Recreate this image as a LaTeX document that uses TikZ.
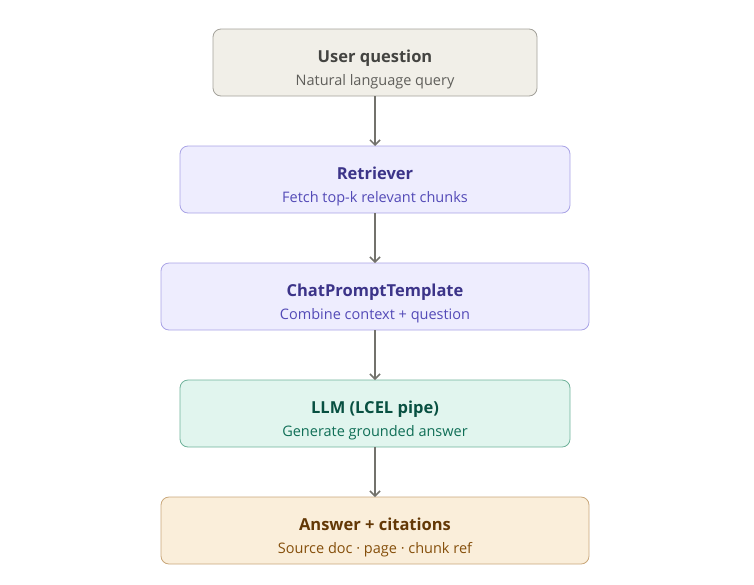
\documentclass[tikz,border=0pt]{standalone}
\usepackage{fontspec}
\setmainfont{Open Sans}
\usepackage{tikz}
\usetikzlibrary{
    arrows.meta,
    positioning
}
\usepackage{xcolor}

\definecolor{cinzaFundo}{HTML}{F1EFE8}
\definecolor{cinzaBorda}{HTML}{A3A19A}
\definecolor{cinzaTitulo}{HTML}{444441}
\definecolor{cinzaTexto}{HTML}{5F5E5A}
\definecolor{roxoFundo}{HTML}{EEEDFE}
\definecolor{roxoBorda}{HTML}{A9A3E6}
\definecolor{roxoTitulo}{HTML}{3C3489}
\definecolor{roxoTexto}{HTML}{534AB7}
\definecolor{verdeFundo}{HTML}{E1F5EE}
\definecolor{verdeBorda}{HTML}{6FB29A}
\definecolor{verdeTitulo}{HTML}{085041}
\definecolor{verdeTexto}{HTML}{0F6E56}
\definecolor{laranjaFundo}{HTML}{FAEEDA}
\definecolor{laranjaBorda}{HTML}{C9A77A}
\definecolor{laranjaTitulo}{HTML}{633806}
\definecolor{laranjaTexto}{HTML}{854F0B}
\definecolor{seta}{HTML}{73726C}

% linhas com struts fixos para espacamento uniforme
\newcommand{\titulo}[1]{{\rule[-5pt]{0pt}{31pt}\fontsize{16.5}{20}\selectfont\bfseries #1}}
\newcommand{\sub}[1]{{\rule[-4pt]{0pt}{19pt}\fontsize{14.5}{17}\selectfont #1}}

\begin{document}
\begin{tikzpicture}[
    x=1pt, y=-1pt,
    node distance=50pt,
    bloco/.style={
        draw,
        line width=0.8pt,
        rounded corners=8pt,
        minimum height=67pt,
        align=center,
        inner sep=0pt,
        outer sep=0pt
    },
    cinza/.style={bloco, fill=cinzaFundo, draw=cinzaBorda},
    roxo/.style={bloco, fill=roxoFundo, draw=roxoBorda},
    verde/.style={bloco, fill=verdeFundo, draw=verdeBorda},
    laranja/.style={bloco, fill=laranjaFundo, draw=laranjaBorda},
    conector/.style={
        -{Straight Barb[length=5pt,width=10pt]},
        line width=1.5pt,
        draw=seta
    }
]

\useasboundingbox (0,0) rectangle (754,584);

\node[cinza, minimum width=324pt] (pergunta) at (375,62.5)
    {\titulo{\color{cinzaTitulo}User question}\\[2pt]
     \sub{\color{cinzaTexto}Natural language query}};
\node[roxo, minimum width=390pt, below=of pergunta] (retriever)
    {\titulo{\color{roxoTitulo}Retriever}\\[2pt]
     \sub{\color{roxoTexto}Fetch top-k relevant chunks}};
\node[roxo, minimum width=428pt, below=of retriever] (prompt)
    {\titulo{\color{roxoTitulo}ChatPromptTemplate}\\[2pt]
     \sub{\color{roxoTexto}Combine context + question}};
\node[verde, minimum width=390pt, below=of prompt] (llm)
    {\titulo{\color{verdeTitulo}LLM (LCEL pipe)}\\[2pt]
     \sub{\color{verdeTexto}Generate grounded answer}};
\node[laranja, minimum width=428pt, below=of llm] (resposta)
    {\titulo{\color{laranjaTitulo}Answer + citations}\\[2pt]
     \sub{\color{laranjaTexto}Source doc · page · chunk ref}};

\draw[conector] (pergunta) -- (retriever);
\draw[conector] (retriever) -- (prompt);
\draw[conector] (prompt) -- (llm);
\draw[conector] (llm) -- (resposta);

\end{tikzpicture}
\end{document}
